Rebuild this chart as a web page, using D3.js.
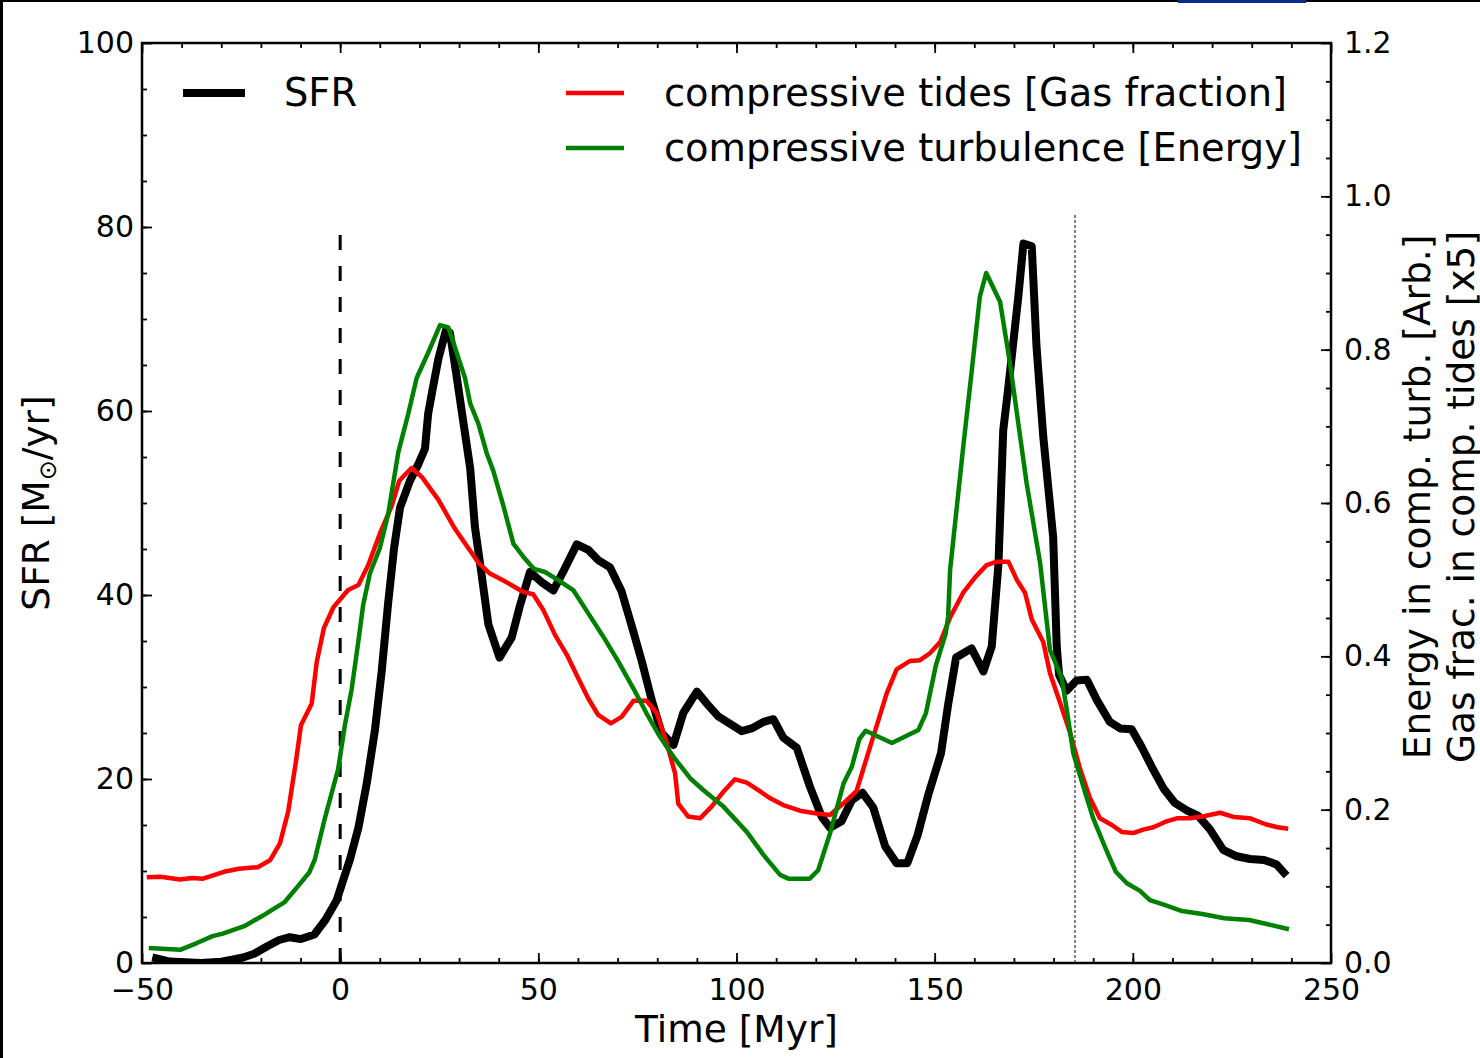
<!DOCTYPE html>
<html>
<head>
<meta charset="utf-8">
<script src="https://cdn.jsdelivr.net/npm/d3@7"></script>
<style>
body { margin: 0; background: #fff; }
text { font-family: "DejaVu Sans", sans-serif; fill: #000; }
</style>
</head>
<body>
<div id="chart"></div>
<script>
// SFR (left axis, Msun/yr)
var sfrTime = [-47.4, -43.0, -35.2, -30.0, -27.3, -24.5, -21.7, -18.5, -15.4, -12.7, -9.9, -6.5, -3.7, -0.9,
  2.5, 4.6, 6.7, 8.8, 10.5, 12.1, 13.6, 15.1, 17.6, 19.7, 21.4, 22.2, 23.3, 24.8, 26.7, 27.7, 29.2, 30.9,
  32.8, 34.0, 35.5, 37.4, 40.2, 43.3, 45.4, 47.9, 50.8, 53.8, 56.7, 59.7, 62.6, 65.1, 68.1, 71.0, 73.6,
  76.1, 78.6, 81.1, 84.1, 86.6, 90.0, 92.5, 95.4, 98.4, 101.3, 103.8, 106.8, 109.3, 111.8, 115.2, 118.5,
  121.5, 123.6, 126.5, 129.1, 131.8, 134.5, 137.5, 140.4, 143.1, 145.7, 148.4, 151.6, 153.4, 155.4, 159.3,
  162.3, 164.4, 166.1, 167.3, 168.6, 171.1, 172.4, 174.5, 175.7, 177.4, 179.9, 180.8, 181.4,
  183.3, 185.8, 188.4, 190.9, 194.2, 196.8, 199.7, 202.2, 204.8, 207.7, 210.6, 213.6, 216.5, 219.5, 222.8,
  226.2, 229.6, 233.1, 236.3, 238.8];
var sfrValues = [0.6, 0.15, 0.0, 0.15, 0.35, 0.6, 1.0, 1.8, 2.5, 2.8, 2.6, 3.1, 4.7, 6.8,
  11.3, 14.7, 19.5, 25.4, 31.8, 39.1, 45.1, 49.5, 52.4, 54.2, 55.9, 59.7, 62.3, 65.7, 68.8, 68.5, 64.3, 59.3,
  53.8, 47.4, 42.8, 36.8, 33.2, 35.4, 38.9, 42.5, 41.4, 40.5, 42.9, 45.5, 44.9, 43.8, 43.0, 40.4, 36.6,
  32.8, 28.6, 25.0, 23.7, 27.2, 29.5, 28.2, 26.8, 26.0, 25.2, 25.5, 26.2, 26.5, 24.5, 23.4, 19.2,
  15.9, 14.7, 15.4, 17.7, 18.5, 16.9, 12.7, 10.85, 10.85, 13.9, 18.3, 22.8, 28.1, 33.2, 34.2,
  31.7, 34.4, 43.4, 57.9, 62.6, 72.4, 78.2, 77.9, 67.0, 57.2, 46.3, 34.4, 31.3,
  29.6, 30.7, 30.8, 28.6, 26.2, 25.5, 25.4, 23.5, 21.3, 19.0, 17.4, 16.6, 16.0, 14.5, 12.3,
  11.6, 11.3, 11.2, 10.7, 9.5];

// compressive tides, gas fraction x5 (right axis)
var tidesTime = [-48.8, -45.3, -40.4, -37.4, -34.6, -29.3, -25.6, -20.8, -17.7, -15.2, -13.1, -11.1, -9.9,
  -7.2, -5.9, -4.1, -1.7, 2.0, 4.6, 7.1, 10.0, 13.0, 14.9, 18.0, 20.6, 24.8, 29.0, 34.9, 37.8, 41.2, 46.2,
  48.7, 51.3, 54.2, 57.2, 60.1, 62.6, 65.1, 68.3, 71.0, 74.0, 77.3, 79.9, 82.4, 84.5, 85.3, 87.8, 90.8,
  93.7, 96.7, 99.6, 102.6, 105.5, 108.5, 111.8, 116.0, 120.2, 123.6, 127.0, 130.3, 133.3, 135.4, 137.9,
  140.4, 143.8, 146.3, 148.8, 151.4, 153.9, 157.2, 160.2, 163.1, 165.7, 168.6, 170.7, 172.8, 174.5, 177.4,
  179.1, 181.6, 184.2, 186.7, 189.2, 191.7, 194.7, 197.2, 200.1, 202.6, 205.2, 208.1, 211.1, 214.4, 218.2,
  222.0, 225.4, 229.6, 233.5, 236.5, 239.2];
var tidesValues = [0.112, 0.1125, 0.109, 0.111, 0.110, 0.119, 0.123, 0.125, 0.134, 0.156, 0.198, 0.265, 0.31,
  0.338, 0.393, 0.437, 0.464, 0.4865, 0.493, 0.519, 0.560, 0.596, 0.629, 0.6456, 0.634, 0.604, 0.566, 0.522,
  0.508, 0.499, 0.484, 0.481, 0.460, 0.428, 0.402, 0.371, 0.345, 0.3235, 0.3126, 0.321, 0.342, 0.342, 0.3257,
  0.2866, 0.2474, 0.208, 0.191, 0.1887, 0.204, 0.2234, 0.2396, 0.2352, 0.2256, 0.2148, 0.206, 0.1987, 0.195,
  0.193, 0.2083, 0.2245, 0.275, 0.310, 0.3517, 0.383, 0.394, 0.395, 0.404, 0.4187, 0.4508, 0.483, 0.503,
  0.519, 0.5235, 0.5235, 0.500, 0.483, 0.448, 0.4187, 0.378, 0.340, 0.2995, 0.253, 0.215, 0.1887, 0.180,
  0.171, 0.1695, 0.174, 0.177, 0.184, 0.1887, 0.1887, 0.1917, 0.196, 0.1905, 0.1887, 0.181, 0.177, 0.175];

// compressive turbulence energy (right axis)
var turbTime = [-48.3, -40.4, -36.3, -32.2, -29.8, -24.2, -18.8, -14.1, -11.0, -7.8, -6.4, -3.8, -0.5, 1.2,
  2.9, 4.6, 5.8, 7.5, 10.0, 12.1, 14.7, 17.2, 19.3, 22.2, 25.2, 27.3, 29.4, 31.5, 32.8, 34.9, 37.0, 38.6,
  41.2, 43.7, 46.2, 48.9, 51.7, 55.0, 58.8, 62.6, 66.4, 70.2, 74.0, 77.3, 80.7, 84.1, 88.3, 91.6, 96.7,
  102.6, 106.8, 111.0, 113.1, 118.5, 120.6, 123.6, 127.0, 129.1, 131.0, 132.6, 139.2, 145.9, 147.8, 150.3,
  152.8, 153.4, 153.9, 157.2, 159.3, 161.4, 163.0, 166.5, 169.0, 173.2, 176.6, 179.1, 182.0, 183.3, 185.0,
  186.7, 188.4, 190.0, 193.0, 195.7, 198.5, 201.8, 204.3, 208.0, 212.4, 217.5,
  223.1, 229.3, 233.8, 239.4];
var turbValues = [0.0195, 0.0172, 0.0257, 0.035, 0.038, 0.048, 0.064, 0.079, 0.098, 0.118, 0.135, 0.190, 0.253,
  0.3107, 0.357, 0.420, 0.467, 0.508, 0.541, 0.585, 0.667, 0.7166, 0.763, 0.796, 0.832, 0.829, 0.796, 0.763,
  0.730, 0.703, 0.6646, 0.6426, 0.596, 0.547, 0.530, 0.514, 0.510, 0.4995, 0.4865, 0.456, 0.4256, 0.393,
  0.358, 0.3257, 0.295, 0.269, 0.241, 0.2256, 0.204, 0.171, 0.141, 0.115, 0.110, 0.110, 0.121, 0.169, 0.234,
  0.256, 0.292, 0.303, 0.287, 0.304, 0.326, 0.388, 0.430, 0.452, 0.513, 0.673, 0.770, 0.869, 0.900,
  0.8626, 0.782, 0.626, 0.522, 0.408, 0.373, 0.3314, 0.273, 0.244, 0.215, 0.1887,
  0.151, 0.119, 0.104, 0.094, 0.082, 0.0757, 0.0678, 0.0639, 0.0583, 0.056, 0.0509, 0.044];

var xTicks = [-50, 0, 50, 100, 150, 200, 250];
var yLeftTicks = [0, 20, 40, 60, 80, 100];
var yRightTicks = [0.0, 0.2, 0.4, 0.6, 0.8, 1.0, 1.2];
var legendLabels = ["SFR", "compressive tides [Gas fraction]", "compressive turbulence [Energy]"];
var markerTimes = [0, 185.4];

var svgWidth = 1480;
var svgHeight = 1058;
var margin = {top: 43, right: 149, bottom: 95, left: 142};
var width = svgWidth - margin.left - margin.right;
var height = svgHeight - margin.top - margin.bottom;

var svg = d3.select("#chart")
  .append("svg")
  .attr("width", svgWidth)
  .attr("height", svgHeight);

svg.append("rect").attr("width", svgWidth).attr("height", svgHeight).attr("fill", "#fff");
// figure edge left in the screenshot
svg.append("rect").attr("x", 0).attr("y", 0).attr("width", svgWidth).attr("height", 2).attr("fill", "#000");
svg.append("rect").attr("x", 0).attr("y", 0).attr("width", 3).attr("height", svgHeight).attr("fill", "#000");
svg.append("rect").attr("x", 1178).attr("y", 0).attr("width", 128).attr("height", 3).attr("fill", "#0b2a8a");

var chartGroup = svg.append("g")
  .attr("transform", `translate(${margin.left}, ${margin.top})`);

chartGroup.append("clipPath").attr("id", "plotclip")
  .append("rect").attr("width", width).attr("height", height);

var xScale = d3.scaleLinear().domain([-50, 250]).range([0, width]);
var yLeft = d3.scaleLinear().domain([0, 100]).range([height, 0]);
var yRight = d3.scaleLinear().domain([0, 1.2]).range([height, 0]);

var minus = d => d < 0 ? "\u2212" + Math.abs(d) : String(d);

function styleAxis(g, fontSize) {
  g.select(".domain").remove();
  g.selectAll(".tick line").attr("stroke", "#000").attr("stroke-width", 1.8);
  g.selectAll(".tick text").attr("font-size", fontSize).attr("font-family", "DejaVu Sans").attr("fill", "#000");
}

// bottom
chartGroup.append("g").attr("transform", `translate(0, ${height})`)
  .call(d3.axisBottom(xScale).tickValues(d3.range(-40, 250, 10)).tickSize(-5).tickFormat(""))
  .call(g => styleAxis(g, 30));
chartGroup.append("g").attr("transform", `translate(0, ${height})`)
  .call(d3.axisBottom(xScale).tickValues(xTicks).tickSizeInner(-10).tickSizeOuter(0).tickPadding(16).tickFormat(minus))
  .call(g => styleAxis(g, 30));
// top
chartGroup.append("g")
  .call(d3.axisTop(xScale).tickValues(d3.range(-40, 250, 10)).tickSize(-5).tickFormat(""))
  .call(g => styleAxis(g, 30));
chartGroup.append("g")
  .call(d3.axisTop(xScale).tickValues(xTicks).tickSize(-10).tickFormat(""))
  .call(g => styleAxis(g, 30));
// left
chartGroup.append("g")
  .call(d3.axisLeft(yLeft).tickValues(d3.range(5, 100, 5)).tickSize(-5).tickFormat(""))
  .call(g => styleAxis(g, 30));
chartGroup.append("g")
  .call(d3.axisLeft(yLeft).tickValues(yLeftTicks).tickSizeInner(-10).tickSizeOuter(0).tickPadding(8))
  .call(g => styleAxis(g, 30));
// right
chartGroup.append("g").attr("transform", `translate(${width}, 0)`)
  .call(d3.axisRight(yRight).tickValues(d3.range(0.05, 1.2, 0.05)).tickSize(-5).tickFormat(""))
  .call(g => styleAxis(g, 30));
chartGroup.append("g").attr("transform", `translate(${width}, 0)`)
  .call(d3.axisRight(yRight).tickValues(yRightTicks).tickSizeInner(-10).tickSizeOuter(0).tickPadding(13).tickFormat(d3.format(".1f")))
  .call(g => styleAxis(g, 30));

var plot = chartGroup.append("g").attr("clip-path", "url(#plotclip)");

// vertical markers
plot.append("line")
  .attr("x1", xScale(markerTimes[0])).attr("x2", xScale(markerTimes[0]))
  .attr("y1", yLeft(0)).attr("y2", yLeft(80))
  .attr("stroke", "#000").attr("stroke-width", 3).attr("stroke-dasharray", "15,16");
plot.append("line")
  .attr("x1", xScale(markerTimes[1])).attr("x2", xScale(markerTimes[1]))
  .attr("y1", yLeft(0)).attr("y2", yLeft(81.3))
  .attr("stroke", "#666").attr("stroke-width", 1.6).attr("stroke-dasharray", "3,2");

var sfrLine = d3.line().x(d => xScale(d[0])).y(d => yLeft(d[1]));
var rightLine = d3.line().x(d => xScale(d[0])).y(d => yRight(d[1]));

plot.append("path").datum(d3.zip(sfrTime, sfrValues))
  .attr("d", sfrLine).attr("fill", "none").attr("stroke", "#000")
  .attr("stroke-width", 8).attr("stroke-linejoin", "round");
plot.append("path").datum(d3.zip(tidesTime, tidesValues))
  .attr("d", rightLine).attr("fill", "none").attr("stroke", "#ff0000")
  .attr("stroke-width", 4.5).attr("stroke-linejoin", "round");
plot.append("path").datum(d3.zip(turbTime, turbValues))
  .attr("d", rightLine).attr("fill", "none").attr("stroke", "#008000")
  .attr("stroke-width", 4.5).attr("stroke-linejoin", "round");

// spines
chartGroup.append("rect").attr("width", width).attr("height", height)
  .attr("fill", "none").attr("stroke", "#000").attr("stroke-width", 2.5);

// legend
var legend = svg.append("g");
var legendItems = [
  {x1: 183, x2: 245, y: 93, tx: 284, color: "#000", w: 8},
  {x1: 566, x2: 624, y: 93, tx: 664, color: "#ff0000", w: 4.5},
  {x1: 566, x2: 624, y: 148, tx: 664, color: "#008000", w: 4.5}
];
legendItems.forEach(function(item, i) {
  legend.append("line").attr("x1", item.x1).attr("x2", item.x2)
    .attr("y1", item.y).attr("y2", item.y)
    .attr("stroke", item.color).attr("stroke-width", item.w);
  legend.append("text").attr("x", item.tx).attr("y", item.y + 13)
    .attr("font-size", 38.4).text(legendLabels[i]);
});

// axis labels
svg.append("text")
  .attr("x", margin.left + width / 2).attr("y", 1042)
  .attr("text-anchor", "middle").attr("font-size", 37.5)
  .text("Time [Myr]");

var ylab = svg.append("text")
  .attr("transform", "translate(49, 503) rotate(-90)")
  .attr("text-anchor", "middle").attr("font-size", 37.5);
ylab.append("tspan").text("SFR [M");
ylab.append("tspan").attr("font-size", 24).attr("dy", 7).text("\u2299");
ylab.append("tspan").attr("dy", -7).text("/yr]");

svg.append("text")
  .attr("transform", "translate(1430, 497) rotate(-90)")
  .attr("text-anchor", "middle").attr("font-size", 37.5)
  .text("Energy in comp. turb. [Arb.]");
svg.append("text")
  .attr("transform", "translate(1474, 497) rotate(-90)")
  .attr("text-anchor", "middle").attr("font-size", 37.5)
  .text("Gas frac. in comp. tides [x5]");
</script>
</body>
</html>
